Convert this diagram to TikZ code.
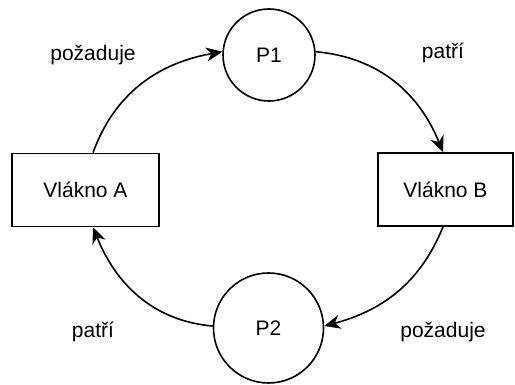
\documentclass[tikz,border=0pt]{standalone}
\usepackage{fontspec}
\setmainfont{Liberation Sans}
\usetikzlibrary{arrows.meta,calc}
\begin{document}
\begin{tikzpicture}[x=1pt,y=1pt,
  every node/.style={font=\fontsize{21}{25}\selectfont},
  box/.style={draw,line width=1.6pt,rectangle,minimum height=73pt,inner sep=0pt},
  place/.style={draw,line width=1.6pt,circle,inner sep=0pt},
  conn/.style={line width=1.6pt,-{Stealth[length=16pt,width=14pt,inset=5pt]}},
  lbl/.style={inner sep=0pt}]
\useasboundingbox (0,0) rectangle (515,385);
\node[box,minimum width=147pt] (A) at (85.5,195) {Vlákno A};
\node[box,minimum width=135pt] (B) at (445.5,195.5) {Vlákno B};
\node[place,minimum size=92pt] (P1) at (269,330) {P1};
\node[place,minimum size=110pt] (P2) at (268.5,57) {P2};
\coordinate (As) at ($(A.north)+(7.5,0)$);
\coordinate (Ae) at ($(A.south)+(7.5,0)$);
\coordinate (Bs) at ($(B.north)+(-2.5,0)$);
\coordinate (Be) at ($(B.south)+(-2.5,0)$);
\draw[conn] (As) to[out=70,in=190] (P1.176);
\draw[conn] (P1.4) to[out=-5,in=112] (Bs);
\draw[conn] (Be) to[out=248,in=15] (P2.2);
\draw[conn] (P2.178) to[out=175,in=292] (Ae);
\node[lbl] (l1) at (93,330) {požaduje};
\node[lbl] (l2) at (443,332) {patří};
\node[lbl] (l3) at (93,53) {patří};
\node[lbl] (l4) at (443,53) {požaduje};
\end{tikzpicture}
\end{document}
